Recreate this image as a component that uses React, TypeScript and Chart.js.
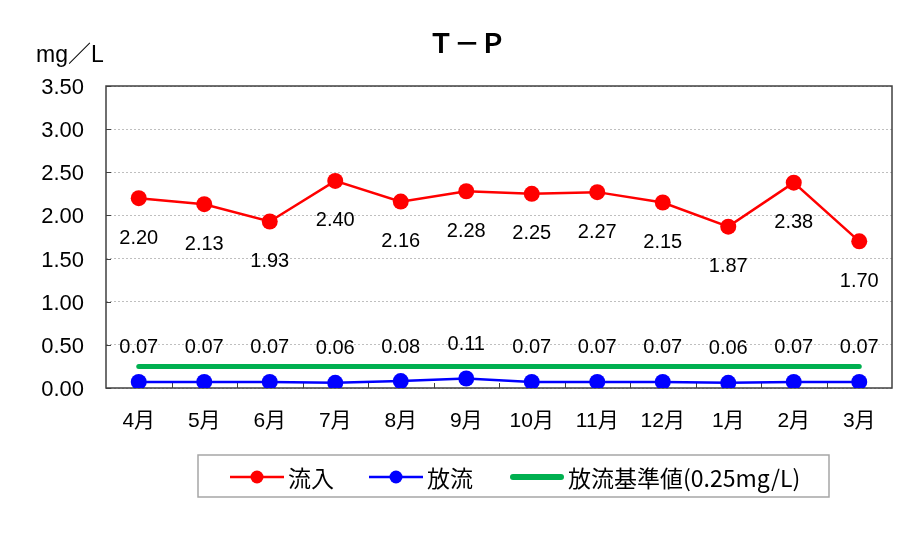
import React, { useEffect, useRef } from "react";
import { Chart, registerables } from "chart.js";
Chart.register(...registerables);

const categories = ["4月", "5月", "6月", "7月", "8月", "9月", "10月", "11月", "12月", "1月", "2月", "3月"];
const inflow = [2.2, 2.13, 1.93, 2.4, 2.16, 2.28, 2.25, 2.27, 2.15, 1.87, 2.38, 1.7];
const outflow = [0.07, 0.07, 0.07, 0.06, 0.08, 0.11, 0.07, 0.07, 0.07, 0.06, 0.07, 0.07];
const standard = [0.25, 0.25, 0.25, 0.25, 0.25, 0.25, 0.25, 0.25, 0.25, 0.25, 0.25, 0.25];
const titleText = "Ｔ－Ｐ";
const unitText = "mg／L";
const seriesNames = ["流入", "放流", "放流基準値(0.25mg/L)"];

const CJK = '"Noto Sans CJK JP", "Noto Sans", sans-serif';
const LAT = '"Liberation Sans", "Noto Sans CJK JP", sans-serif';

export default function App() {
  const ref = useRef<HTMLCanvasElement>(null);
  useEffect(() => {
    if (!ref.current) return;
    const overlay = {
      id: "overlay",
      beforeDatasetsDraw(chart: any) {
        const { ctx, chartArea: a, scales } = chart;
        ctx.save();
        ctx.strokeStyle = "#404040";
        ctx.lineWidth = 1.5;
        ctx.strokeRect(a.left, a.top, a.right - a.left, a.bottom - a.top);
        ctx.lineWidth = 1;
        scales.y.ticks.forEach((t: any) => {
          const y = Math.round(scales.y.getPixelForValue(t.value)) + 0.5;
          ctx.beginPath();
          ctx.moveTo(a.left, y);
          ctx.lineTo(a.left + 5, y);
          ctx.stroke();
        });
        const n = categories.length;
        const w = (a.right - a.left) / n;
        for (let i = 1; i < n; i++) {
          const x = Math.round(scales.x.getPixelForValue(i) - w / 2) + 0.5;
          ctx.beginPath();
          ctx.moveTo(x, a.bottom);
          ctx.lineTo(x, a.bottom - 5);
          ctx.stroke();
        }
        ctx.restore();
      },
      afterDraw(chart: any) {
        const { ctx } = chart;
        ctx.save();
        ctx.fillStyle = "#000";
        ctx.font = `20px ${LAT}`;
        ctx.textAlign = "center";
        ctx.textBaseline = "middle";
        const metaIn = chart.getDatasetMeta(2);
        metaIn.data.forEach((p: any, i: number) => {
          ctx.fillText(inflow[i].toFixed(2), p.x, p.y + 40);
        });
        const metaOut = chart.getDatasetMeta(1);
        metaOut.data.forEach((p: any, i: number) => {
          ctx.fillText(outflow[i].toFixed(2), p.x, p.y - 34);
        });
        ctx.font = `bold 26px ${CJK}`;
        ctx.fillText(titleText, 467, 43);
        ctx.font = `23px ${LAT}`;
        ctx.textAlign = "left";
        ctx.fillText(unitText, 36, 56);
        ctx.strokeStyle = "#a6a6a6";
        ctx.lineWidth = 1.5;
        ctx.strokeRect(198, 455, 631, 42);
        const ly = 477;
        const items = [
          { x: 230, color: "#FF0000", width: 2.5, dot: true },
          { x: 369, color: "#0000FF", width: 2.5, dot: true },
          { x: 510, color: "#00B050", width: 6, dot: false },
        ];
        ctx.font = `23px ${CJK}`;
        items.forEach((it, i) => {
          ctx.strokeStyle = it.color;
          ctx.lineWidth = it.width;
          ctx.lineCap = it.dot ? "butt" : "round";
          ctx.beginPath();
          ctx.moveTo(it.x + (it.dot ? 0 : 3), ly);
          ctx.lineTo(it.x + 54 - (it.dot ? 0 : 3), ly);
          ctx.stroke();
          if (it.dot) {
            ctx.fillStyle = it.color;
            ctx.beginPath();
            ctx.arc(it.x + 27, ly, 6.5, 0, Math.PI * 2);
            ctx.fill();
          }
          ctx.fillStyle = "#000";
          ctx.fillText(seriesNames[i], it.x + 58, ly + 1);
        });
        ctx.restore();
      },
    };
    const chart = new Chart(ref.current, {
      type: "line",
      data: {
        labels: categories,
        datasets: [
          {
            label: seriesNames[2],
            data: standard,
            borderColor: "#00B050",
            borderWidth: 5,
            borderCapStyle: "round",
            pointRadius: 0,
            order: 3,
          },
          {
            label: seriesNames[1],
            data: outflow,
            borderColor: "#0000FF",
            backgroundColor: "#0000FF",
            borderWidth: 2.5,
            pointRadius: 8,
            pointBorderWidth: 0,
            order: 2,
          },
          {
            label: seriesNames[0],
            data: inflow,
            borderColor: "#FF0000",
            backgroundColor: "#FF0000",
            borderWidth: 2.5,
            pointRadius: 8,
            pointBorderWidth: 0,
            order: 1,
          },
        ],
      } as any,
      options: {
        animation: false,
        responsive: false,
        devicePixelRatio: 1,
        layout: { padding: { top: 86, right: 21, left: 0, bottom: 0 } },
        plugins: {
          legend: { display: false },
          title: { display: false },
          tooltip: { enabled: false },
        },
        scales: {
          x: {
            offset: true,
            grid: { display: false, drawTicks: false },
            border: { display: false },
            ticks: { font: { family: LAT, size: 21 }, color: "#000", padding: 21, maxRotation: 0 },
            afterFit(s: any) {
              s.height = 147;
            },
          },
          y: {
            min: 0,
            max: 3.5,
            ticks: {
              stepSize: 0.5,
              callback: (v: any) => Number(v).toFixed(2),
              padding: 22,
              labelOffset: 2,
              font: { family: LAT, size: 22 },
              color: "#000",
            },
            grid: { color: "#bfbfbf", drawTicks: false, lineWidth: 1 },
            border: { display: false, dash: [2, 2] },
            afterFit(s: any) {
              s.width = 106;
            },
          },
        },
      } as any,
      plugins: [overlay],
    });
    return () => chart.destroy();
  }, []);
  return (
    <div style={{ position: "fixed", left: 0, top: 0, width: 913, height: 535, background: "#fff" }}>
      <canvas ref={ref} width={913} height={535} style={{ width: 913, height: 535, display: "block" }} />
    </div>
  );
}
